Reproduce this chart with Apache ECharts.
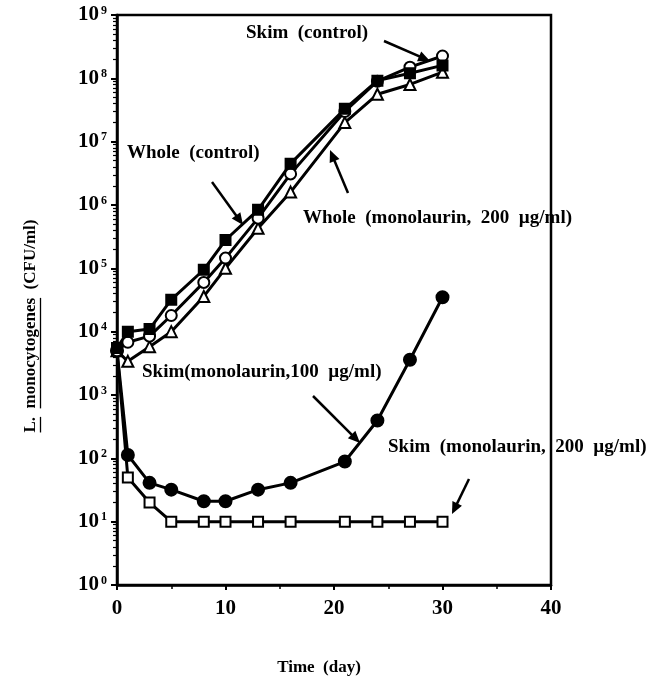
<!DOCTYPE html>
<html>
<head>
<meta charset="utf-8">
<title>L. monocytogenes growth</title>
<script src="https://cdn.jsdelivr.net/npm/echarts@6.0.0/dist/echarts.min.js"></script>
<style>
html, body { margin: 0; padding: 0; background: #fff; }
#chart { width: 647px; height: 678px; }
</style>
</head>
<body>
<div id="chart"></div>
<script>
// sampling days (x)
const days = [0, 1, 3, 5, 8, 10, 13, 16, 21, 24, 27, 30];

// CFU/ml
const wholeControl = [5500, 10000, 11000, 32000, 95000, 280000, 840000, 4.5e6, 3.3e7, 9.2e7, 1.2e8, 1.6e8];
const skimControl = [5000, 6800, 8500, 18000, 60000, 145000, 620000, 3.1e6, 3.0e7, 9.0e7, 1.5e8, 2.25e8];
const wholeMono200 = [5000, 3400, 5800, 10000, 36000, 100000, 430000, 1.6e6, 2.0e7, 5.6e7, 8.0e7, 1.25e8];
const skimMono100 = [5000, 113, 41, 32, 21, 21, 32, 41, 89, 395, 3600, 35000];
const skimMono200 = [5000, 50, 20, 10, 10, 10, 10, 10, 10, 10, 10, 10];

const xTicks = [0, 10, 20, 30, 40];
const yTicks = [1, 1e1, 1e2, 1e3, 1e4, 1e5, 1e6, 1e7, 1e8, 1e9];

const FONT = '"Liberation Serif", "DejaVu Serif", serif';

// annotation labels and arrows (pixel positions of the printed figure)
const notes = [
	{ text: 'Skim  (control)', x: 246, y: 33 },
	{ text: 'Whole  (control)', x: 127, y: 153 },
	{ text: 'Whole  (monolaurin,  200  \u00b5g/ml)', x: 303, y: 218 },
	{ text: 'Skim(monolaurin,100  \u00b5g/ml)', x: 142, y: 372 },
	{ text: 'Skim  (monolaurin,  200  \u00b5g/ml)', x: 388, y: 447 }
];
const arrows = [
	[384, 41, 430, 61],
	[212, 182, 243, 225],
	[348, 193, 330, 150],
	[313, 396, 360, 443],
	[469, 479, 452, 514]
];

function pairs(vals) {
	return days.map((d, i) => [d, vals[i]]);
}

function lineSeries(name, vals, symbol, size, filled) {
	return {
		name: name,
		type: 'line',
		data: pairs(vals),
		symbol: symbol,
		symbolSize: size,
		showAllSymbol: true,
		lineStyle: { color: '#000', width: 3 },
		itemStyle: { color: filled ? '#000' : '#fff', borderColor: '#000', borderWidth: 2 },
		emphasis: { disabled: true },
		animation: false,
		z: 3
	};
}

function arrowShapes(x1, y1, x2, y2) {
	const a = Math.atan2(y2 - y1, x2 - x1);
	const L = 13, w = 0.42;
	const p1 = [x2 - L * Math.cos(a - w), y2 - L * Math.sin(a - w)];
	const p2 = [x2 - L * Math.cos(a + w), y2 - L * Math.sin(a + w)];
	return [
		{ type: 'line', shape: { x1: x1, y1: y1, x2: x2 - 4 * Math.cos(a), y2: y2 - 4 * Math.sin(a) }, style: { stroke: '#000', lineWidth: 2.5 } },
		{ type: 'polygon', shape: { points: [p1, [x2, y2], p2] }, style: { fill: '#000' } }
	];
}

// y axis title: "L. monocytogenes (CFU/ml)" rotated, with underline under the species name
const yTitle = { l: 'L.', gap: '  ', sp: 'monocytogenes', tail: '  (CFU/ml)', x: 31, y: 326, size: 17 };
function yTitleShapes() {
	const c = document.createElement('canvas').getContext('2d');
	c.font = 'bold ' + yTitle.size + 'px ' + FONT;
	const full = yTitle.l + yTitle.gap + yTitle.sp + yTitle.tail;
	const W = c.measureText(full).width;
	const wL = c.measureText(yTitle.l).width;
	const wSpStart = c.measureText(yTitle.l + yTitle.gap).width;
	const wSpEnd = c.measureText(yTitle.l + yTitle.gap + yTitle.sp).width;
	const y0 = yTitle.y + W / 2;
	const ux = yTitle.x + yTitle.size * 0.5 + 1;
	return [
		{
			type: 'text', x: yTitle.x, y: yTitle.y, rotation: Math.PI / 2,
			style: { text: full, font: 'bold ' + yTitle.size + 'px ' + FONT, fill: '#000', align: 'center', verticalAlign: 'middle' }
		},
		{ type: 'line', shape: { x1: ux, y1: y0, x2: ux, y2: y0 - wL }, style: { stroke: '#000', lineWidth: 1.3 } },
		{ type: 'line', shape: { x1: ux, y1: y0 - wSpStart, x2: ux, y2: y0 - wSpEnd }, style: { stroke: '#000', lineWidth: 1.3 } }
	];
}

const graphics = [];
notes.forEach(n => {
	graphics.push({
		type: 'text', x: n.x, y: n.y,
		style: { text: n.text, font: 'bold 19px ' + FONT, fill: '#000', align: 'left', verticalAlign: 'middle' }
	});
});
arrows.forEach(a => graphics.push(...arrowShapes(a[0], a[1], a[2], a[3])));
graphics.push(...yTitleShapes());
graphics.push({
	type: 'text', x: 319, y: 668,
	style: { text: 'Time  (day)', font: 'bold 17px ' + FONT, fill: '#000', align: 'center', verticalAlign: 'middle' }
});

const chart = echarts.init(document.getElementById('chart'));
chart.setOption({
	backgroundColor: '#fff',
	animation: false,
	grid: { left: 117, top: 15, width: 434, height: 570, show: true, borderColor: '#000', borderWidth: 2.5, backgroundColor: 'transparent' },
	xAxis: {
		type: 'value',
		min: xTicks[0],
		max: xTicks[xTicks.length - 1],
		interval: 10,
		axisLine: { lineStyle: { color: '#000', width: 2.5 } },
		axisTick: { show: true, length: 5, lineStyle: { color: '#000', width: 2 } },
		minorTick: { show: true, splitNumber: 2, length: 4, lineStyle: { color: '#000', width: 1.5 } },
		splitLine: { show: false },
		axisLabel: { margin: 13, fontFamily: FONT, fontWeight: 'bold', fontSize: 21, color: '#000' }
	},
	yAxis: {
		type: 'log',
		logBase: 10,
		min: yTicks[0],
		max: yTicks[yTicks.length - 1],
		interval: 1,
		axisLine: { lineStyle: { color: '#000', width: 2.5 } },
		axisTick: { show: true, length: 6, lineStyle: { color: '#000', width: 2 } },
		minorTick: { show: true, splitNumber: 9, length: 4, lineStyle: { color: '#000', width: 1.2 } },
		splitLine: { show: false },
		axisLabel: {
			margin: 10,
			formatter: v => '{b|10}{s|' + Math.round(Math.log10(v)) + '}',
			rich: {
				b: { fontFamily: FONT, fontWeight: 'bold', fontSize: 21, color: '#000' },
				s: { fontFamily: FONT, fontWeight: 'bold', fontSize: 12, color: '#000', verticalAlign: 'top', padding: [0, 0, 0, 2] }
			}
		}
	},
	series: [
		lineSeries('Skim (monolaurin, 200 \u00b5g/ml)', skimMono200, 'rect', 10, false),
		lineSeries('Skim (monolaurin, 100 \u00b5g/ml)', skimMono100, 'circle', 12, true),
		lineSeries('Whole (monolaurin, 200 \u00b5g/ml)', wholeMono200, 'triangle', 11, false),
		lineSeries('Skim (control)', skimControl, 'circle', 11, false),
		lineSeries('Whole (control)', wholeControl, 'rect', 10, true)
	],
	graphic: graphics
});
</script>
</body>
</html>
